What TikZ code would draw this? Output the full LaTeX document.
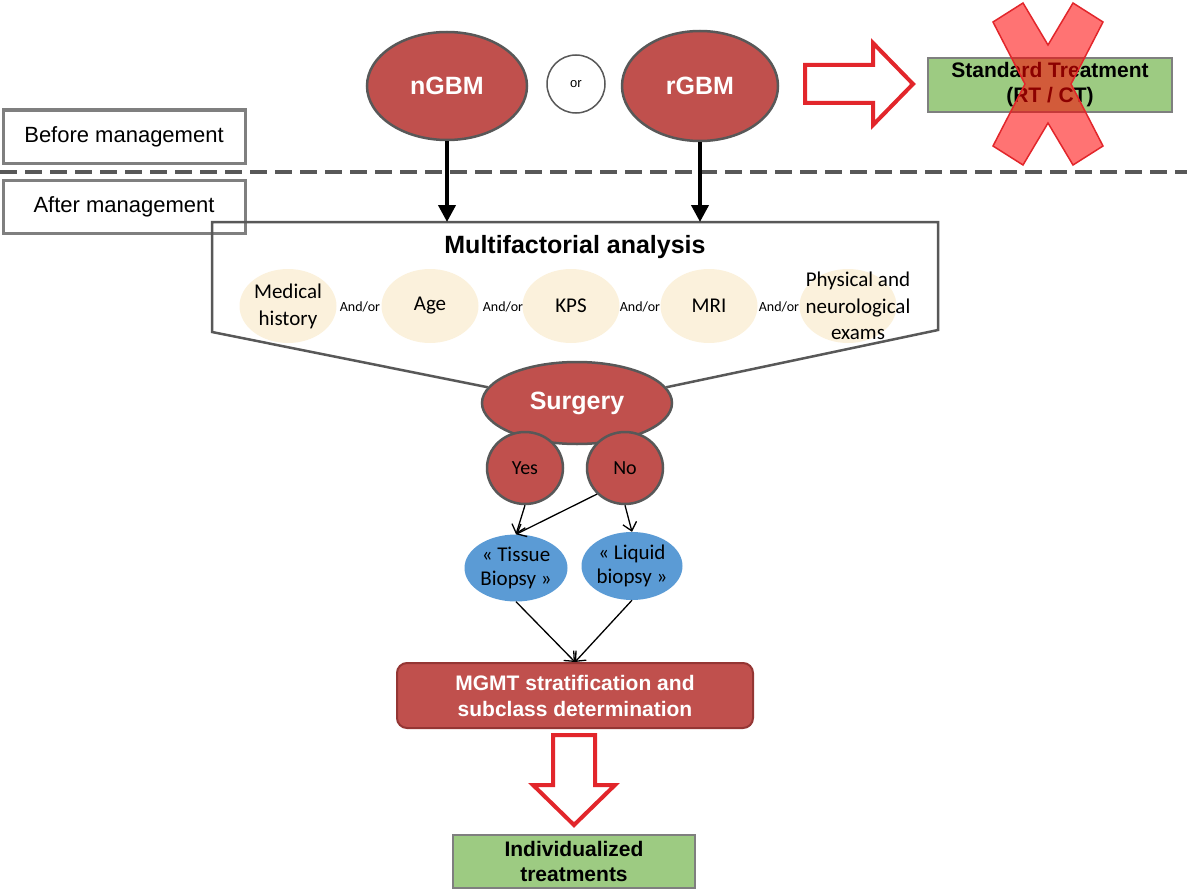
\documentclass[tikz,border=0pt]{standalone}
\usepackage{fontspec}
\setmainfont{Liberation Sans}
\newfontfamily\calibri{Carlito}
\usepackage{tikz}
\usetikzlibrary{positioning,arrows.meta,shapes.geometric}

\definecolor{gbmred}{HTML}{C0504D}
\definecolor{rimgray}{HTML}{585858}
\definecolor{boxgray}{HTML}{7F7F7F}
\definecolor{factorcream}{HTML}{FBF1DC}
\definecolor{biopsyblue}{HTML}{5B9BD5}
\definecolor{treatgreen}{HTML}{9DCB82}
\definecolor{hollowred}{HTML}{E2262B}
\definecolor{mgmtrim}{HTML}{943634}

\tikzset{
	gbm/.style={ellipse,fill=gbmred,draw=rimgray,line width=2.5pt,inner sep=0pt,text=white,font=\fontsize{25}{30}\selectfont\bfseries},
	choice/.style={ellipse,fill=gbmred,draw=rimgray,line width=2.5pt,inner sep=0pt,minimum width=76pt,minimum height=72pt,font=\calibri\fontsize{20}{24}\selectfont},
	factor/.style={ellipse,fill=factorcream,inner sep=0pt,minimum width=97pt,minimum height=74pt,align=center,font=\calibri\fontsize{21}{27}\selectfont},
	andor/.style={inner sep=0pt,font=\calibri\fontsize{14}{16}\selectfont},
	biopsy/.style={ellipse,fill=biopsyblue,inner sep=0pt,minimum width=103pt,minimum height=67pt,align=center,font=\calibri\fontsize{21}{24}\selectfont},
	phase/.style={draw=boxgray,line width=3pt,minimum width=242pt,minimum height=53pt,font=\fontsize{22}{26}\selectfont},
	treat/.style={draw=boxgray,fill=treatgreen,line width=2.5pt,inner sep=0pt,align=center,font=\fontsize{21}{25}\selectfont\bfseries},
	hollow/.style={draw=hollowred,fill=white,line width=4pt,line join=miter},
	bigarrow/.style={-{Triangle[length=17pt,width=17pt]},line width=4pt},
	pick/.style={-{Straight Barb[length=8pt,width=14pt]},line width=1.3pt},
	frame/.style={draw=rimgray,line width=2.5pt,line join=miter}
}

\begin{document}
\begin{tikzpicture}[x=1pt,y=-1pt]
	\useasboundingbox (0,0) rectangle (1187,891);

	% before management
	\node[gbm,minimum width=160pt,minimum height=108pt] (ngbm) at (447,86) {nGBM};
	\node[circle,draw=rimgray,line width=1.5pt,minimum size=58pt,inner sep=0pt,font=\fontsize{13}{15}\selectfont] (or) at (576,84) {or};
	\node[gbm,minimum width=156pt,minimum height=110pt] (rgbm) at (700,86) {rGBM};
	\node[treat,minimum width=244pt,minimum height=54pt] (std) at (1050,85) {Standard Treatment\\(RT / CT)};

	\draw[hollow] (805,65) -- (873,65) -- (873,43) -- (913,84) -- (873,125) -- (873,103) -- (805,103) -- cycle;
	\draw[draw=hollowred,fill=red,fill opacity=0.55,line width=1.5pt,line join=miter]
		(993,22) -- (1023,3) -- (1048,45) -- (1073,3) -- (1103,22) -- (1071,84) -- (1103,146)
		-- (1073,165) -- (1048,123) -- (1023,165) -- (993,146) -- (1025,84) -- cycle;

	\node[phase] (before) at (124,136.5) {Before management};
	\draw[draw=rimgray,line width=4pt,dash pattern=on 17pt off 8pt] (0,172) -- (1187,172);
	\node[phase] (after) at (124,206.5) {After management};

	% multifactorial analysis
	\coordinate (matop) at (575,222);
	\node[gbm,minimum width=190pt,minimum height=82pt] (surgery) at (577,403) {Surgery};
	\draw[frame] (surgery.170) -- (212,332) -- (212,222) -- (938,222) -- (938,330) -- (surgery.10);
	\node[anchor=base,inner sep=0pt,font=\fontsize{25}{30}\selectfont\bfseries] (matitle) at (575,253) {Multifactorial analysis};

	\node[factor] (medical) at (288,306) {Medical\\history};
	\node[factor] (age) at (430,306) {Age};
	\node[factor] (kps) at (571,306) {KPS};
	\node[factor] (mri) at (709,306) {MRI};
	\node[factor] (phys) at (848,306) {};
	\node[inner sep=0pt,align=center,font=\calibri\fontsize{21}{26.5}\selectfont] (physlabel) at (858,306) {Physical and\\neurological\\exams};
	\node[andor] (ao1) at (360,307) {And/or};
	\node[andor] (ao2) at (503,307) {And/or};
	\node[andor] (ao3) at (640,307) {And/or};
	\node[andor] (ao4) at (779,307) {And/or};

	\draw[bigarrow] (ngbm.south) -- (ngbm.south |- matop);
	\draw[bigarrow] (rgbm.south) -- (rgbm.south |- matop);

	% surgery and biopsy
	\node[choice] (yes) at (525,468) {Yes};
	\node[choice] (no) at (625,468) {No};
	\node[biopsy] (tissue) at (516,568) {« Tissue\\Biopsy »};
	\node[biopsy,minimum width=101pt,minimum height=68pt] (liquid) at (632,566) {« Liquid\\biopsy »};

	\draw[pick] (yes.south) -- (tissue.north);
	\draw[pick] (no.223) -- (tissue.north);
	\draw[pick] (no.south) -- (liquid.north);

	\node[draw=mgmtrim,fill=gbmred,line width=2pt,rounded corners=10pt,minimum width=356pt,minimum height=65pt,inner sep=0pt,align=center,text=white,font=\fontsize{21}{26}\selectfont\bfseries] (mgmt) at (575,695.5) {MGMT stratification and\\subclass determination};
	\draw[pick] (tissue.south) -- (mgmt.north);
	\draw[pick] (liquid.south) -- (mgmt.north);

	\draw[hollow] (553,735) -- (595,735) -- (595,785) -- (615,785) -- (574,825) -- (533,785) -- (553,785) -- cycle;
	\node[treat,minimum width=242pt,minimum height=53pt] (indiv) at (574,861.5) {Individualized\\treatments};
\end{tikzpicture}
\end{document}
